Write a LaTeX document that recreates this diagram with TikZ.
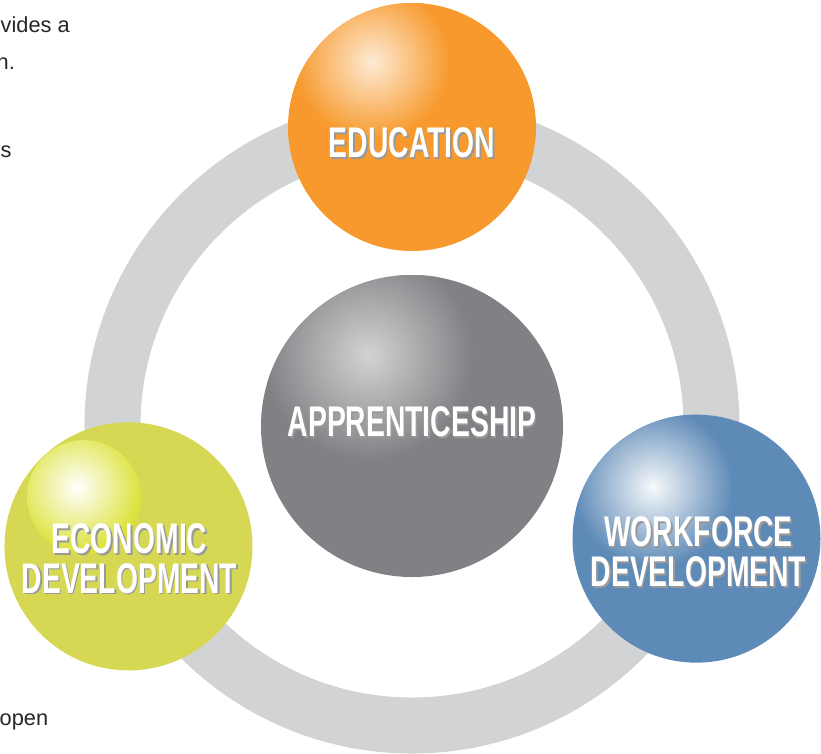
\documentclass[tikz,border=0pt]{standalone}
\usepackage{fontspec}
\usetikzlibrary{positioning}
\setmainfont{Liberation Sans}
\newfontfamily\ballfont[FakeStretch=0.66]{Liberation Sans}

\definecolor{eduorange}{HTML}{F7992C}
\definecolor{appgray}{HTML}{808184}
\definecolor{ringgray}{HTML}{D1D3D4}
\definecolor{workblue}{HTML}{5E8AB7}
\definecolor{econgreen}{HTML}{D6D752}
\definecolor{econlime}{HTML}{D7DF23}

\newcommand{\shadowed}[1]{\makebox[0pt][l]{\hspace{0.45pt}\raisebox{-0.45pt}{\textcolor{black!40}{#1}}}#1}

\begin{document}
\begin{tikzpicture}[ball/.style = {circle, minimum size=2.48cm, inner sep=0pt},
        balltext/.style = {text=white, inner sep=0pt, text height=8.9pt, text depth=0pt, font=\ballfont\bfseries\fontsize{12.2}{14}\selectfont},
        sidetext/.style = {anchor=base west, inner sep=0pt, text=black!85, font=\fontsize{6.2}{7}\selectfont}]
            \useasboundingbox (-4.12,-3.27) rectangle (4.09,4.26);

            \draw[ringgray, line width=0.56cm] (0,0) circle (2.995);

            \node[ball, fill=appgray, minimum size=3.02cm] (app) at (0,0) {};
            \node[ball, fill=eduorange] (edu) at (90:2.99) {};
            \node[ball, fill=econgreen] (econ) at (203:3.08) {};
            \node[ball, fill=workblue] (work) at (-21.6:3.06) {};

            \begin{scope}
                \clip (edu.center) circle (1.24);
                \shade[inner color=eduorange!20!white, outer color=eduorange] (-0.40,3.64) circle (0.78);
            \end{scope}
            \begin{scope}
                \clip (app.center) circle (1.51);
                \shade[inner color=appgray!35!white, outer color=appgray] (-0.44,0.71) circle (1.05);
            \end{scope}
            \begin{scope}
                \clip (work.center) circle (1.24);
                \shade[inner color=workblue!5!white, outer color=workblue] (2.41,-0.61) circle (0.8);
            \end{scope}
            \begin{scope}
                \clip (-3.28,-0.71) circle (0.57);
                \fill[econlime] (-3.28,-0.71) circle (0.57);
                \shade[inner color=white, outer color=econlime] (-3.35,-0.61) circle (0.72);
            \end{scope}

            \node[balltext, yshift=-0.15cm] (edutext) at (edu.center) {\shadowed{EDUCATION}};
            \node[balltext, yshift=0.05cm] (apptext) at (app.center) {\shadowed{APPRENTICESHIP}};
            \node[balltext, xshift=0.01cm, yshift=0.085cm] (econtop) at (econ.center) {\shadowed{ECONOMIC}};
            \node[balltext, below=0.07cm of econtop] (econbottom) {\shadowed{DEVELOPMENT}};
            \node[balltext, xshift=0.02cm, yshift=0.075cm] (worktop) at (work.center) {\shadowed{WORKFORCE}};
            \node[balltext, below=0.07cm of worktop] (workbottom) {\shadowed{DEVELOPMENT}};

            \node[sidetext] (side1) at (-4.12,3.93) {vides a};
            \node[sidetext] (side2) at (-4.16,3.56) {n.};
            \node[sidetext] (side3) at (-4.12,2.69) {s};
            \node[sidetext] (side4) at (-4.13,-2.99) {open};
        \end{tikzpicture}
\end{document}
